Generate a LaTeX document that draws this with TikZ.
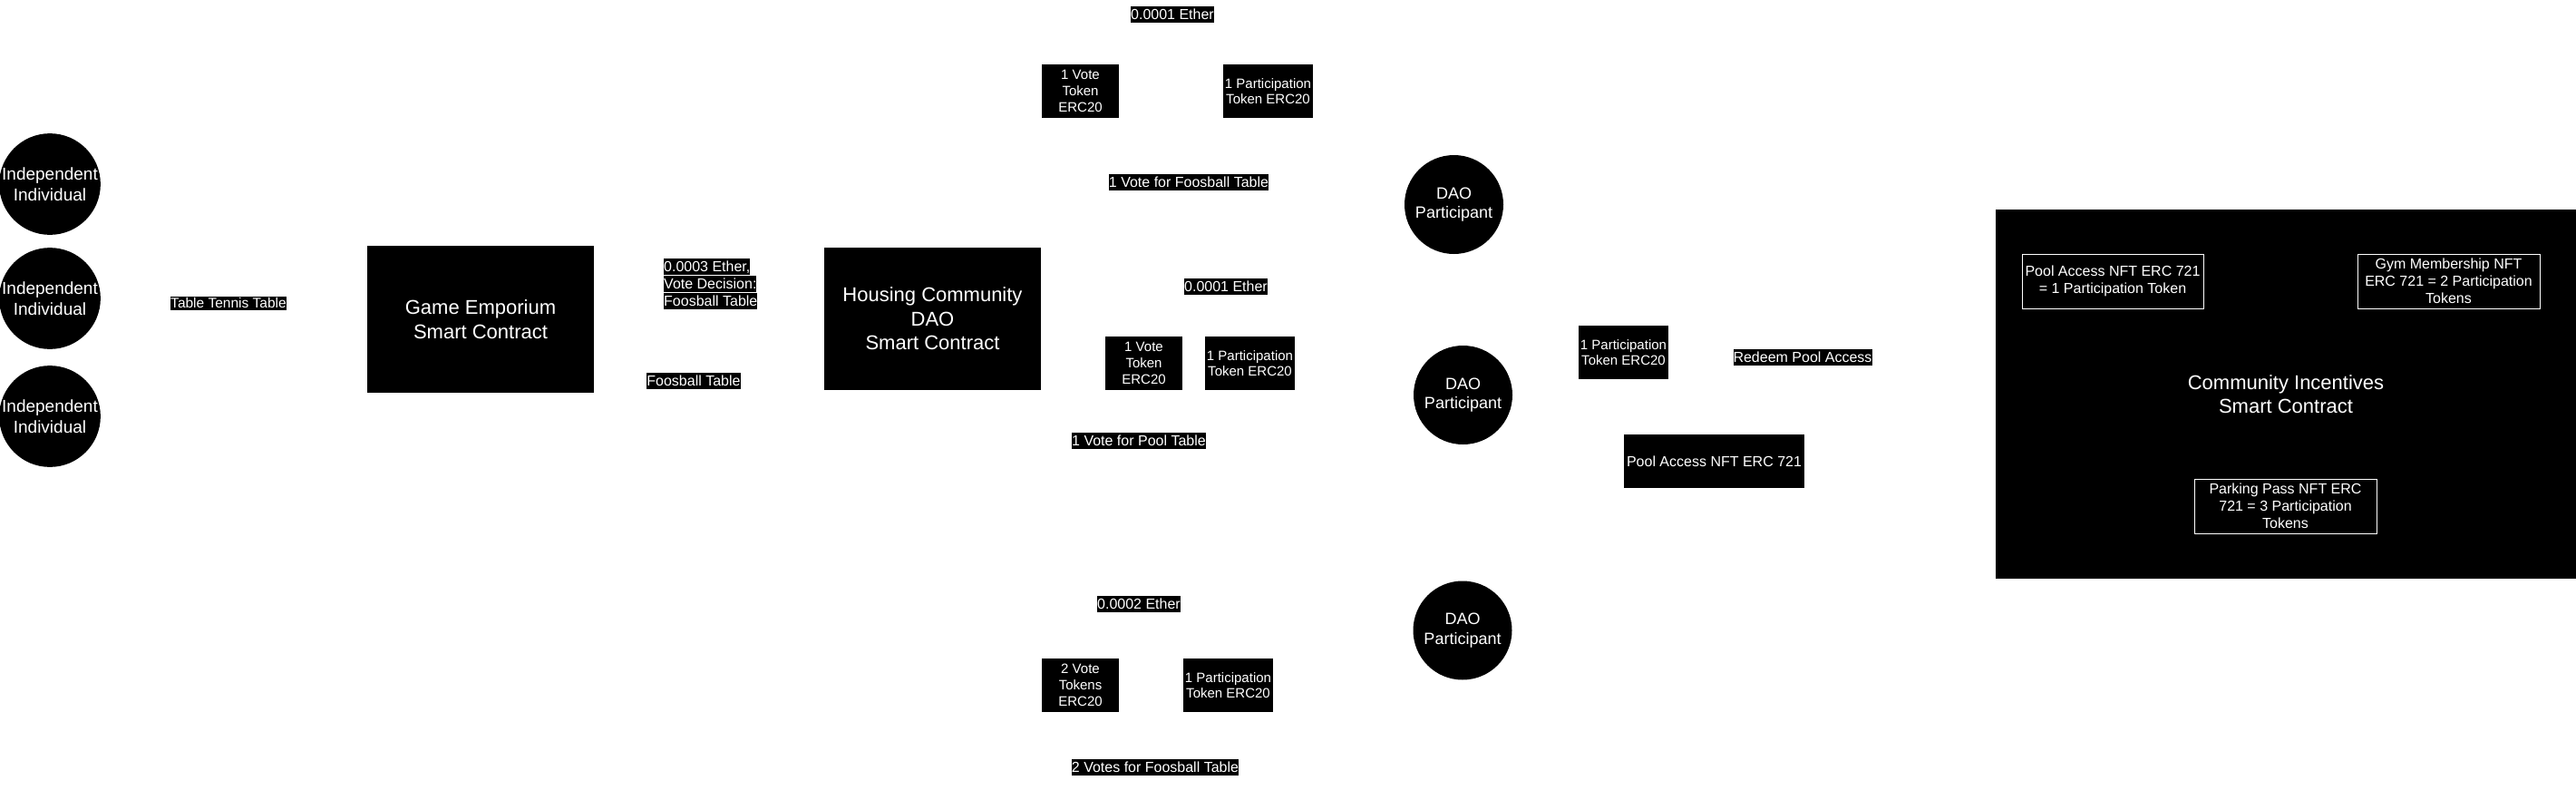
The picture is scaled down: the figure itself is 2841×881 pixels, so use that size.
\documentclass[tikz,border=0pt]{standalone}
\usepackage{fontspec}
\setmainfont{Liberation Sans}
\newcommand\hlbox[1]{{\fboxsep=0pt\colorbox{black}{\rule[-3.4pt]{0pt}{17.9pt}#1}}}
\tikzset{
  circnode/.style={circle, fill=black, text=white, minimum size=109pt, inner sep=0pt, align=center},
  bigbox/.style={rectangle, fill=black, text=white, align=center, inner sep=0pt, font=\fontsize{22}{26.4}\selectfont},
  tokbox/.style={rectangle, fill=black, text=white, align=center, inner sep=0pt, minimum height=59pt, font=\fontsize{15}{17.7}\selectfont},
  lbl/.style={rectangle, fill=black, text=white, inner sep=0pt, text height=14.5pt, text depth=3.4pt, font=\fontsize{16}{19}\selectfont},
  nftbox/.style={rectangle, draw=white, line width=0.8pt, fill=black, text=white, align=center, inner sep=0pt, minimum height=60pt, font=\fontsize{16}{19}\selectfont},
}
\begin{document}
\begin{tikzpicture}[x=1pt, y=-1pt]
\useasboundingbox[fill=white] (0,0) rectangle (2841,881);

% Independent individuals
\node[circnode, font=\fontsize{19}{22.8}\selectfont] (ind1) at (55,203) {Independent\\Individual};
\node[circnode, font=\fontsize{19}{22.8}\selectfont] (ind2) at (55,329) {Independent\\Individual};
\node[circnode, font=\fontsize{19}{22.8}\selectfont] (ind3) at (55,459) {Independent\\Individual};

\node[lbl, font=\fontsize{15.5}{18}\selectfont, text height=12.5pt, text depth=2.5pt] (ttt) at (252,334) {Table Tennis Table};

% Game Emporium
\node[bigbox, minimum width=250pt, minimum height=162pt] (game) at (530,352) {Game Emporium\\ Smart Contract};

% Labels between game and DAO
\node[anchor=north west, inner sep=0pt, align=left, text=white, font=\fontsize{16}{19}\selectfont] (vote) at (732,285)
  {\hlbox{0.0003 Ether,}\\\hlbox{Vote Decision:}\\\hlbox{Foosball Table}};
\node[lbl] (foos) at (765,420) {Foosball Table\ };

% Housing community DAO
\node[bigbox, minimum width=239pt, minimum height=157pt] (dao) at (1028.5,351.5) {Housing Community\\DAO\\Smart Contract};

% Top branch
\node[lbl] (eth1) at (1293,16) {0.0001 Ether};
\node[tokbox, minimum width=85pt] (v1) at (1191.5,100.5) {1 Vote\\Token\\ERC20};
\node[tokbox, minimum width=99pt] (p1) at (1398.5,100.5) {1 Participation\\Token ERC20};
\node[lbl] (l1) at (1311,201) {1 Vote for Foosball Table\ };

% Middle branch
\node[lbl] (eth2) at (1352,316) {0.0001 Ether};
\node[tokbox, minimum width=85pt] (v2) at (1261.5,400.5) {1 Vote\\Token\\ERC20};
\node[tokbox, minimum width=99pt] (p2) at (1378.5,400.5) {1 Participation\\Token ERC20};
\node[lbl] (l2) at (1256,486) {1 Vote for Pool Table\ };

% Bottom branch
\node[lbl] (eth3) at (1256,666) {0.0002 Ether};
\node[tokbox, minimum width=85pt] (v3) at (1191.5,755.5) {2 Vote\\Tokens\\ERC20};
\node[tokbox, minimum width=99pt] (p3) at (1354.5,755.5) {1 Participation\\Token ERC20};
\node[lbl] (l3) at (1274,846) {2 Votes for Foosball Table\ };

% DAO participants
\node[circnode, font=\fontsize{18}{21.6}\selectfont] (dp1) at (1603.5,225.5) {DAO\\Participant};
\node[circnode, font=\fontsize{18}{21.6}\selectfont] (dp2) at (1613.5,435.5) {DAO\\Participant};
\node[circnode, font=\fontsize{18}{21.6}\selectfont] (dp3) at (1613,695) {DAO\\Participant};

% Redeem
\node[tokbox, minimum width=99pt] (p4) at (1790.5,388.5) {1 Participation\\Token ERC20};
\node[lbl] (redeem) at (1988,394) {Redeem Pool Access};
\node[tokbox, minimum width=199pt, font=\fontsize{16}{19}\selectfont] (poolnft) at (1890.5,508.5) {Pool Access NFT ERC 721};

% Community incentives
\node[bigbox, minimum width=640pt, minimum height=407pt] (ci) at (2521,434.5) {Community Incentives\\Smart Contract};
\node[nftbox, minimum width=200pt] (n1) at (2330,310) {Pool Access NFT ERC 721\\= 1 Participation Token};
\node[nftbox, minimum width=201pt] (n2) at (2700.5,310) {Gym Membership NFT\\ERC 721 = 2 Participation\\Tokens};
\node[nftbox, minimum width=201pt] (n3) at (2520.5,558) {Parking Pass NFT ERC\\721 = 3 Participation\\Tokens};
\end{tikzpicture}
\end{document}
